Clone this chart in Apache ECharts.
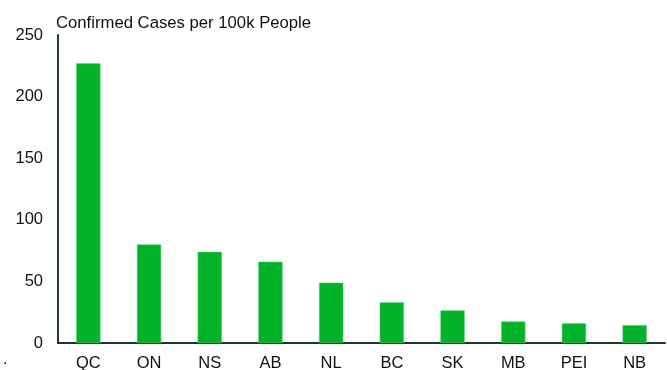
<!DOCTYPE html>
<html><head><meta charset="utf-8">
<script src="https://cdn.jsdelivr.net/npm/echarts@6/dist/echarts.min.js"></script>
<style>html,body{margin:0;padding:0;background:#fff}#c{width:667px;height:370px}</style>
</head><body><div id="c"></div>
<script>
const categories = ['QC','ON','NS','AB','NL','BC','SK','MB','PEI','NB'];
const casesPer100k = [227, 80, 74, 66, 49, 33, 26.5, 17.5, 16, 14.5];
const yTicks = [0, 50, 100, 150, 200, 250];
const titleText = 'Confirmed Cases per 100k People';

const FONT = 'Liberation Sans, Arial';
const chart = echarts.init(document.getElementById('c'), null, {renderer:'canvas'});
chart.setOption({
  animation: false,
  title: { text: titleText, left: 51, top: 10,
    textStyle: { fontFamily: FONT, fontSize: 16.7, fontWeight: 'normal', color: '#111' } },
  graphic: [{ type: 'text', left: 3, top: 352, style: { text: '.', fontSize: 16, fill: '#111', fontFamily: FONT } }],
  grid: { left: 58, right: 2, top: 35, bottom: 27, containLabel: false, outerBoundsMode: 'none' },
  xAxis: {
    type: 'category', data: categories,
    axisLine: { lineStyle: { color: '#1d3a24', width: 2 } },
    axisTick: { show: false },
    axisLabel: { color: '#111', fontSize: 16.5, fontFamily: FONT, margin: 12 }
  },
  yAxis: {
    type: 'value', min: yTicks[0], max: yTicks[yTicks.length-1], interval: 50,
    axisLine: { show: true, lineStyle: { color: '#1d3a24', width: 2 } },
    axisTick: { show: false },
    splitLine: { show: false },
    axisLabel: { color: '#111', fontSize: 16.5, fontFamily: FONT, margin: 15 }
  },
  series: [{
    type: 'bar', data: casesPer100k, barWidth: '40%',
    itemStyle: { color: '#02b32a', borderColor: '#5fd47a', borderWidth: 0.5 }
  }]
});
</script></body></html>
